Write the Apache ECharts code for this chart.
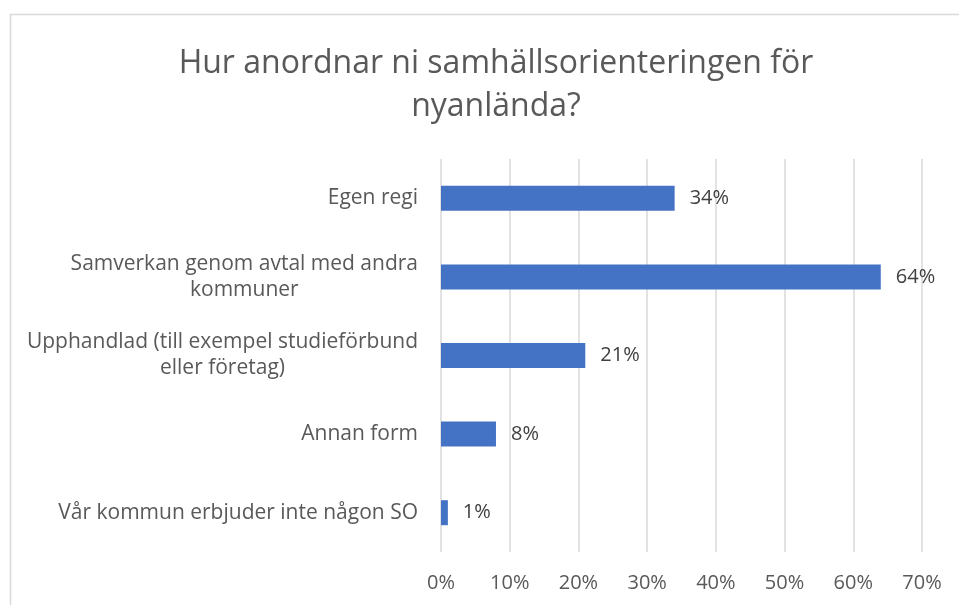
<!DOCTYPE html>
<html>
<head>
<meta charset="utf-8">
<script src="https://cdn.jsdelivr.net/npm/echarts@6/dist/echarts.min.js"></script>
<style>
  html, body { margin: 0; padding: 0; background: #fff; }
  #main { width: 959px; height: 605px; }
</style>
</head>
<body>
<div id="main"></div>
<script>
// kategorier, uppifrån och ned
var categories = [
  'Egen regi',
  'Samverkan genom avtal med andra\nkommuner',
  'Upphandlad (till exempel studieförbund\neller företag)',
  'Annan form',
  'Vår kommun erbjuder inte någon SO'
];
var values = [34, 64, 21, 8, 1];
var axisMax = 70;
var axisStep = 10;

var fontFam = '"Open Sans", "Noto Sans", sans-serif';
var myChart = echarts.init(document.getElementById('main'));

var option = {
  animation: false,
  title: {
    text: 'Hur anordnar ni samhällsorienteringen för\nnyanlända?',
    left: 491,
    top: 37,
    textAlign: 'center',
    textStyle: {
      fontFamily: fontFam,
      fontSize: 32,
      fontWeight: 'normal',
      color: '#595959',
      lineHeight: 43
    }
  },
  // ram runt diagrammet
  graphic: [{
    type: 'rect',
    shape: { x: 10.5, y: 14.5, width: 1000, height: 700 },
    style: { fill: 'none', stroke: '#d9d9d9', lineWidth: 1.5 },
    silent: true
  }],
  grid: {
    left: 441,
    right: 37,
    top: 159,
    bottom: 53
  },
  xAxis: {
    type: 'value',
    min: 0,
    max: axisMax,
    interval: axisStep,
    axisLine: { show: false },
    axisTick: { show: false },
    axisLabel: {
      formatter: '{value}%',
      fontFamily: fontFam,
      fontSize: 20,
      color: '#595959',
      margin: 21
    },
    splitLine: { lineStyle: { color: '#d9d9d9', width: 1.5 } }
  },
  yAxis: {
    type: 'category',
    inverse: true,
    data: categories,
    axisLine: { show: false },
    axisTick: { show: false },
    axisLabel: {
      margin: 23,
      align: 'right',
      fontFamily: fontFam,
      fontSize: 21,
      color: '#595959',
      lineHeight: 26,
      formatter: function (v) {
        return v.split('\n').map(function (l) { return '{c|' + l + '}'; }).join('\n');
      },
      rich: {
        c: { align: 'center', fontFamily: fontFam, fontSize: 21, color: '#595959', lineHeight: 26 }
      }
    }
  },
  series: [{
    type: 'bar',
    data: values,
    barWidth: 25,
    itemStyle: { color: '#4472c4' },
    label: {
      show: true,
      position: 'right',
      distance: 15,
      formatter: '{c}%',
      fontFamily: fontFam,
      fontSize: 20,
      color: '#404040'
    }
  }]
};
myChart.setOption(option);
</script>
</body>
</html>
